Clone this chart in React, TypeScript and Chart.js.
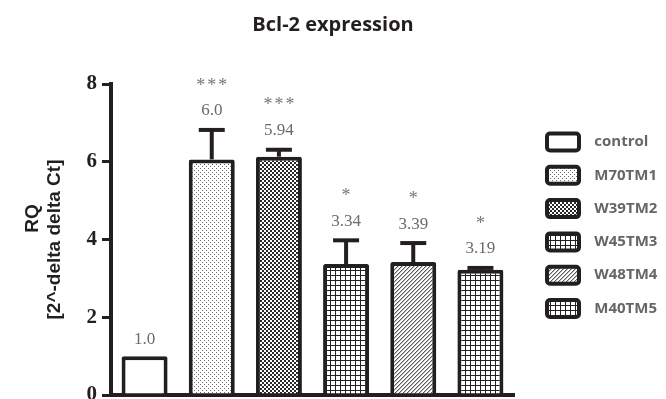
import React, { useEffect, useRef } from 'react';
import { Chart, registerables } from 'chart.js';

Chart.register(...registerables);

// ---- data ----
const categories = ['control', 'M70TM1', 'W39TM2', 'W45TM3', 'W48TM4', 'M40TM5'];
const values = [1.0, 6.06, 6.13, 3.37, 3.42, 3.22];
const errors = [0, 0.81, 0.23, 0.66, 0.54, 0.1];
const valueLabels = ['1.0', '6.0', '5.94', '3.34', '3.39', '3.19'];
const significance = ['', '***', '***', '*', '*', '*'];
const fillKinds = ['blank', 'dots', 'checker', 'grid', 'hatch', 'grid'];
const yTicks = [0, 2, 4, 6, 8];
const chartTitle = 'Bcl-2 expression';
const yTitleLines = ['        RQ', '[2^-delta delta Ct]'];

const INK = '#231f20';

function makeFill(kind: string): CanvasPattern | string {
  if (kind === 'blank') return '#ffffff';
  const size = kind === 'grid' ? 5 : 4;
  const c = document.createElement('canvas');
  c.width = size;
  c.height = size;
  const g = c.getContext('2d')!;
  g.fillStyle = '#ffffff';
  g.fillRect(0, 0, size, size);
  if (kind === 'dots') {
    g.fillStyle = '#6a6a6a';
    g.fillRect(0, 0, 1, 1);
    g.fillRect(2, 2, 1, 1);
  } else if (kind === 'checker') {
    g.fillStyle = '#2a2a2a';
    g.fillRect(0, 0, 2, 2);
    g.fillRect(2, 2, 2, 2);
  } else if (kind === 'grid') {
    g.fillStyle = '#222222';
    g.fillRect(0, 0, size, 1);
    g.fillRect(0, 0, 1, size);
  } else if (kind === 'hatch') {
    g.fillStyle = '#5a5a5a';
    for (let i = 0; i < 4; i++) g.fillRect(3 - i, i, 1, 1);
    g.fillStyle = '#bdbdbd';
    for (let i = 0; i < 4; i++) g.fillRect((4 - i) % 4, i, 1, 1);
  }
  return g.createPattern(c, 'repeat')!;
}

const annotatePlugin = {
  id: 'errorsAndLabels',
  afterDatasetsDraw(chart: any) {
    const ctx: CanvasRenderingContext2D = chart.ctx;
    const meta = chart.getDatasetMeta(0);
    const y = chart.scales.y;
    ctx.save();
    meta.data.forEach((bar: any, i: number) => {
      const x = bar.x;
      const yv = y.getPixelForValue(values[i]);
      const ye = y.getPixelForValue(values[i] + errors[i]);
      if (errors[i] > 0) {
        ctx.strokeStyle = INK;
        ctx.lineWidth = 4;
        ctx.lineCap = 'butt';
        ctx.beginPath();
        ctx.moveTo(x, yv);
        ctx.lineTo(x, ye + 2);
        ctx.stroke();
        ctx.beginPath();
        ctx.moveTo(x - 13, ye + 2);
        ctx.lineTo(x + 13, ye + 2);
        ctx.stroke();
      }
      const top = Math.min(yv, ye);
      const labelY = top - 17;
      ctx.fillStyle = '#6b6b6b';
      ctx.textAlign = 'center';
      ctx.textBaseline = 'middle';
      ctx.font = '17px "Liberation Serif"';
      (ctx as any).letterSpacing = '0px';
      ctx.fillText(valueLabels[i], x, labelY);
      if (significance[i]) {
        ctx.font = '18px "Liberation Serif"';
        (ctx as any).letterSpacing = '2px';
        ctx.fillStyle = '#767676';
        ctx.fillText(significance[i], x + 1, labelY - 25);
        (ctx as any).letterSpacing = '0px';
      }
    });
    ctx.restore();
  },
};

export default function App() {
  const ref = useRef<HTMLCanvasElement | null>(null);

  useEffect(() => {
    if (!ref.current) return;
    const fills = fillKinds.map(makeFill);
    const chart = new Chart(ref.current, {
      type: 'bar',
      data: {
        labels: categories,
        datasets: [
          {
            label: 'RQ',
            data: values,
            backgroundColor: fills as any,
            borderColor: INK,
            borderWidth: 4,
            borderRadius: 2,
            barPercentage: 0.685,
            categoryPercentage: 1,
          },
        ],
      },
      options: {
        responsive: false,
        animation: false,
        layout: { padding: 0 },
        events: [],
        plugins: {
          title: {
            display: true,
            text: chartTitle,
            color: INK,
            font: { family: 'Open Sans', weight: 'bold', size: 20, lineHeight: 1.2 },
            padding: { top: 13, bottom: 47 },
          },
          legend: {
            display: true,
            position: 'right',
            align: 'start',
            fullSize: false,
            maxWidth: 135.3,
            title: {
              display: true,
              text: '',
              padding: { top: 23.2, bottom: 0 },
              font: { size: 10, lineHeight: 1 },
            },
            labels: {
              boxWidth: 32,
              boxHeight: 17,
              padding: 16.3,
              color: INK,
              font: { family: 'Open Sans', weight: 'bold', size: 15 },
              generateLabels: () =>
                categories.map((c, i) => ({
                  text: '  ' + c,
                  fillStyle: fills[i] as any,
                  strokeStyle: INK,
                  lineWidth: 4,
                  borderRadius: 3,
                  hidden: false,
                  index: i,
                  datasetIndex: 0,
                })),
            },
          },
          tooltip: { enabled: false },
        },
        scales: {
          x: {
            type: 'category',
            display: true,
            grid: { display: false, drawTicks: false },
            ticks: { display: false },
            border: { display: true, color: INK, width: 4 },
            afterFit: (s: any) => {
              s.height = 4;
            },
          },
          y: {
            type: 'linear',
            position: 'left',
            min: 0,
            max: 8,
            afterBuildTicks: (s: any) => {
              s.ticks = yTicks.map((v) => ({ value: v }));
            },
            ticks: {
              color: INK,
              font: { family: 'Liberation Serif', weight: 'bold', size: 21 },
              padding: 5,
            },
            grid: {
              display: true,
              drawOnChartArea: false,
              drawTicks: true,
              tickLength: 9,
              lineWidth: 3,
              color: INK,
            },
            border: { display: true, color: INK, width: 4 },
            title: {
              display: true,
              text: yTitleLines,
              color: INK,
              font: { family: 'Liberation Sans', weight: 'bold', size: 19, lineHeight: 1.2 },
              padding: { top: 21, bottom: 0 },
            },
            afterFit: (s: any) => {
              s.width = 111;
              s.paddingTop = 0;
              s.paddingBottom = 0;
            },
          },
          y2: {
            type: 'linear',
            position: 'right',
            display: true,
            grid: { display: false, drawTicks: false },
            ticks: { display: false },
            border: { display: false },
            afterFit: (s: any) => {
              s.width = 16.7;
            },
          },
        },
      } as any,
      plugins: [annotatePlugin],
    });
    return () => chart.destroy();
  }, []);

  return (
    <div style={{ position: 'fixed', left: 0, top: 0, width: 666, height: 399, background: '#ffffff' }}>
      <canvas ref={ref} width={666} height={399} style={{ display: 'block', width: 666, height: 399 }} />
    </div>
  );
}
